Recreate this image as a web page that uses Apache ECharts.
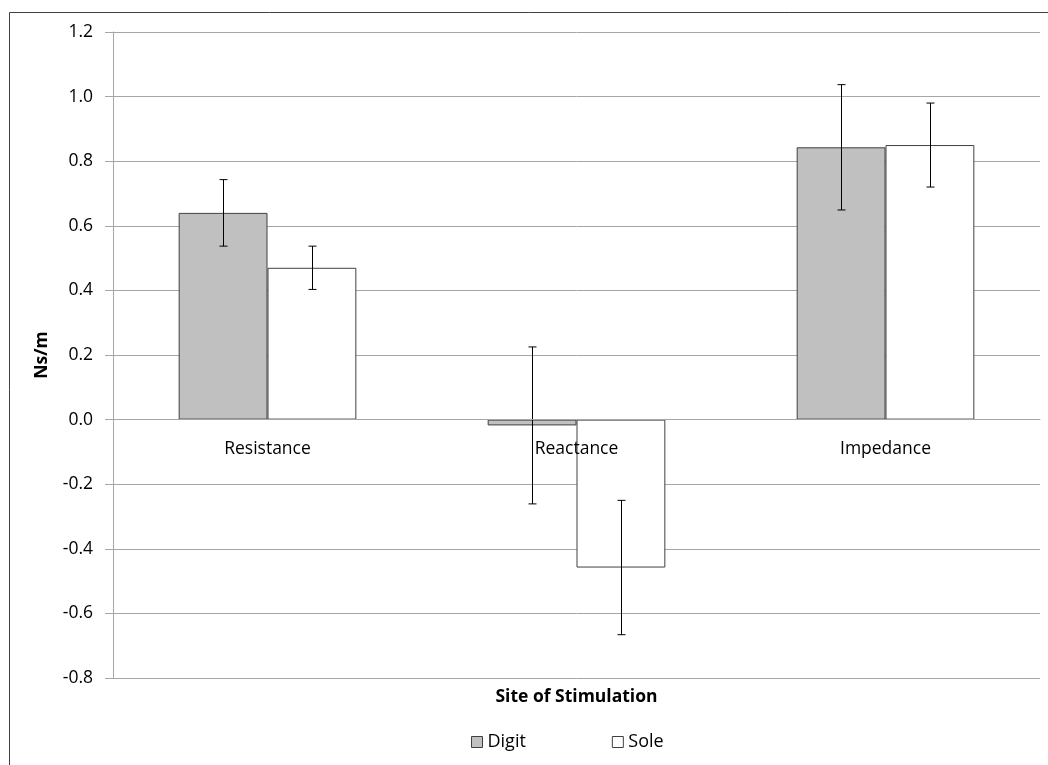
<!DOCTYPE html>
<html><head><meta charset="utf-8">
<script src="https://cdn.jsdelivr.net/npm/echarts@6/dist/echarts.min.js"></script>
<style>html,body{margin:0;padding:0;background:#fff}#c{width:1048px;height:765px}</style>
</head><body><div id="c"></div>
<script>
var categories = ['Resistance', 'Reactance', 'Impedance'];
var digitValues = [0.64, -0.018, 0.843];
var digitErrors = [0.103, 0.243, 0.194];
var soleValues = [0.47, -0.458, 0.85];
var soleErrors = [0.067, 0.208, 0.13];
var yTicks = [-0.8, -0.6, -0.4, -0.2, 0.0, 0.2, 0.4, 0.6, 0.8, 1.0, 1.2];

var FONT = 'Open Sans';
var FS = 17.5;
var chart = echarts.init(document.getElementById('c'));

var GRID_TOP = 32, GRID_BOTTOM_PX = 678;
var Y_MIN = yTicks[0], Y_MAX = yTicks[yTicks.length - 1];
var zeroOffset = (GRID_BOTTOM_PX - GRID_TOP) * (0 - Y_MIN) / (Y_MAX - Y_MIN);

function errData(vals, errs) {
  return vals.map(function (v, i) { return [i, v - errs[i], v + errs[i]]; });
}
function errRender(offsetSign) {
  return function (params, api) {
    var idx = api.value(0);
    var lo = api.coord([idx, api.value(1)]);
    var hi = api.coord([idx, api.value(2)]);
    var bw = api.size([1, 0])[0];
    var barW = bw * 0.575 / 2;
    var x = Math.round(lo[0] + offsetSign * barW / 2) + 0.5;
    var cap = 4;
    var st = { stroke: '#000', lineWidth: 1 };
    return { type: 'group', children: [
      { type: 'line', shape: { x1: x, y1: hi[1], x2: x, y2: lo[1] }, style: st },
      { type: 'line', shape: { x1: x - cap, y1: hi[1], x2: x + cap, y2: hi[1] }, style: st },
      { type: 'line', shape: { x1: x - cap, y1: lo[1], x2: x + cap, y2: lo[1] }, style: st }
    ]};
  };
}

chart.setOption({
  animation: false,
  textStyle: { fontFamily: FONT },
  graphic: [{ type: 'rect', shape: { x: 9.5, y: 12.5, width: 1100, height: 800 }, style: { fill: 'none', stroke: '#404040', lineWidth: 1 }, silent: true }],
  grid: { left: 113, right: 8, top: GRID_TOP, bottom: 765 - GRID_BOTTOM_PX },
  legend: {
    bottom: 9, left: 466, itemGap: 86, itemWidth: 11, itemHeight: 11,
    textStyle: { fontFamily: FONT, fontSize: 18, color: '#000' },
    data: [
      { name: 'Digit', icon: 'rect', itemStyle: { color: '#C0C0C0', borderColor: '#404040', borderWidth: 1 } },
      { name: 'Sole', icon: 'rect', itemStyle: { color: '#fff', borderColor: '#404040', borderWidth: 1 } }
    ]
  },
  xAxis: [{
    type: 'category', data: categories, z: 10,
    offset: -zeroOffset,
    axisLine: { onZero: false, lineStyle: { color: '#A6A6A6' } },
    axisTick: { show: false },
    axisLabel: { margin: 20, fontSize: FS, color: '#000', fontFamily: FONT }
  }, {
    type: 'category', data: categories, position: 'bottom',
    name: 'Site of Stimulation', nameLocation: 'middle', nameGap: 10,
    nameTextStyle: { fontFamily: FONT, fontWeight: 'bold', fontSize: FS, color: '#000' },
    axisLine: { show: false, onZero: false },
    axisTick: { show: false },
    axisLabel: { show: false }
  }],
  yAxis: {
    type: 'value', min: Y_MIN, max: Y_MAX, interval: 0.2,
    name: 'Ns/m', nameLocation: 'middle', nameGap: 62, nameRotate: 90,
    nameTextStyle: { fontFamily: FONT, fontWeight: 'bold', fontSize: FS, color: '#000' },
    axisLine: { show: true, lineStyle: { color: '#A6A6A6' } },
    axisTick: { show: true, length: 8, lineStyle: { color: '#A6A6A6' } },
    axisLabel: { margin: 20, fontSize: FS, color: '#000', fontFamily: FONT,
      formatter: function (v) { return v.toFixed(1); } },
    splitLine: { lineStyle: { color: '#A6A6A6' } }
  },
  series: [
    { name: 'Digit', type: 'bar', data: digitValues, barGap: '0%', barCategoryGap: '42.5%',
      itemStyle: { color: '#C0C0C0', borderColor: '#404040', borderWidth: 1 } },
    { name: 'Sole', type: 'bar', data: soleValues,
      itemStyle: { color: '#fff', borderColor: '#404040', borderWidth: 1 } },
    { type: 'custom', renderItem: errRender(-1), data: errData(digitValues, digitErrors), z: 10 },
    { type: 'custom', renderItem: errRender(1), data: errData(soleValues, soleErrors), z: 10 }
  ]
});
</script></body></html>
